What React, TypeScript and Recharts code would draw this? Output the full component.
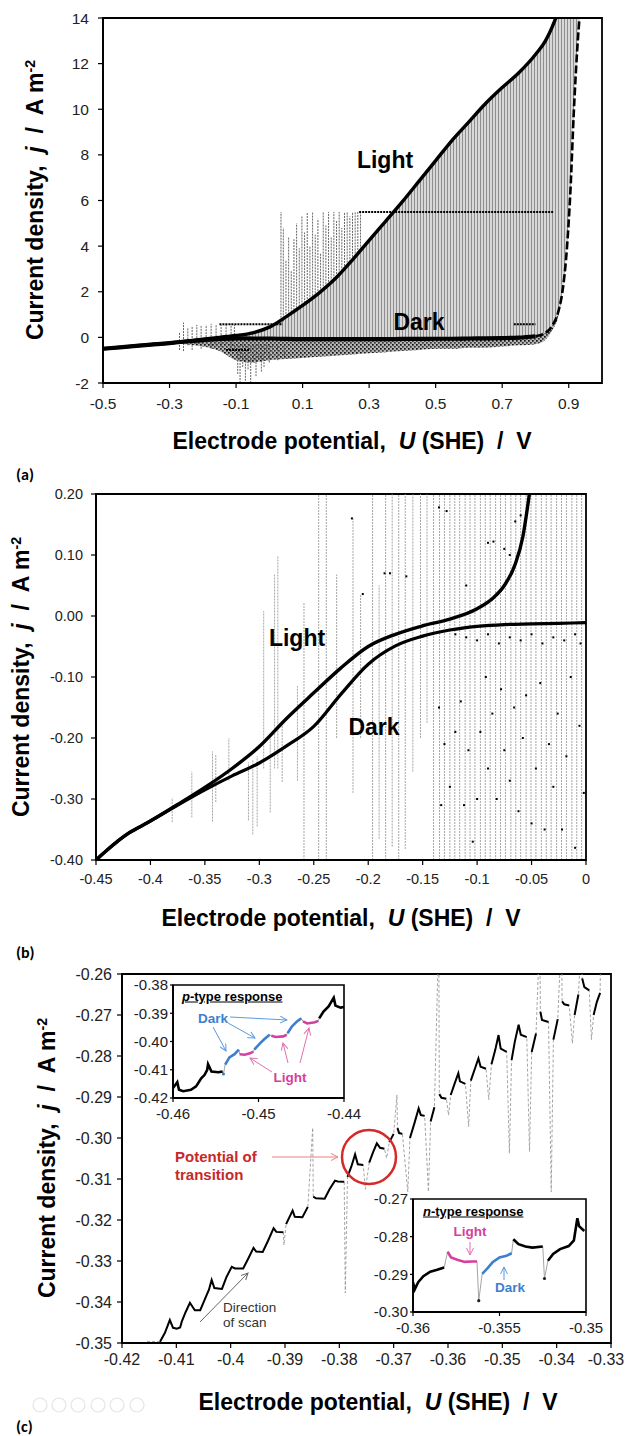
import React from 'react';
import {
  ComposedChart,
  Line,
  Area,
  Scatter,
  XAxis,
  YAxis,
  ReferenceLine,
  ReferenceArea,
} from 'recharts';

const FONT = "'Liberation Sans', Arial, Helvetica, sans-serif";

// ---------------- Panel (a) ----------------
const aPotential = [-0.5, -0.45, -0.4, -0.35, -0.3, -0.25, -0.2, -0.15, -0.1, -0.05, 0, 0.05, 0.1, 0.15, 0.2, 0.25, 0.3, 0.35, 0.4, 0.45, 0.5, 0.55, 0.6, 0.65, 0.7, 0.75, 0.8, 0.83, 0.85, 0.87, 0.88, 0.895, 0.905, 0.915, 0.925, 0.935];
const aLight = [-0.5, -0.44, -0.37, -0.31, -0.25, -0.17, -0.08, 0.0, 0.08, 0.2, 0.45, 0.9, 1.4, 1.95, 2.6, 3.4, 4.25, 5.1, 5.95, 6.85, 7.75, 8.65, 9.45, 10.25, 10.95, 11.6, 12.4, 13.0, 13.6, 14.4, 15.0, 15.8, 16.4, 17.0, 17.5, 18.0];
const aDark = [-0.5, -0.44, -0.37, -0.31, -0.25, -0.18, -0.12, -0.07, -0.04, -0.05, -0.05, -0.07, -0.08, -0.08, -0.08, -0.08, -0.08, -0.08, -0.07, -0.07, -0.06, -0.06, -0.05, -0.04, -0.03, -0.01, 0.05, 0.2, 0.5, 1.2, 1.9, 4.0, 6.4, 9.8, 12.5, 14.5];
const aNoiseLow = [-0.5, -0.44, -0.37, -0.31, -0.27, -0.3, -0.4, -0.6, -1.0, -1.1, -1.0, -0.95, -0.9, -0.85, -0.8, -0.75, -0.7, -0.65, -0.6, -0.55, -0.5, -0.5, -0.45, -0.45, -0.4, -0.35, -0.3, -0.1, 0.3, 1.0, 1.9, 4.0, 6.4, 9.8, 12.5, 14.5];
// [U, j low, j high]
const aSpikes: [number, number, number][] = [
  [0.035, 0.6, 5.5], [0.042, 0.7, 4.8], [0.05, 0.9, 3.4], [0.058, 1.0, 4.4], [0.066, 1.1, 2.9], [0.074, 1.2, 4.3],
  [0.082, 1.3, 5.0], [0.09, 1.35, 3.9], [0.098, 1.4, 5.3], [0.106, 1.5, 4.6], [0.114, 1.55, 5.5], [0.122, 1.65, 4.0],
  [0.13, 1.7, 5.5], [0.138, 1.8, 4.5], [0.146, 1.9, 5.2], [0.154, 2.0, 3.7], [0.162, 2.1, 5.5], [0.17, 2.2, 4.9],
  [0.178, 2.3, 5.5], [0.186, 2.45, 4.4], [0.194, 2.55, 5.5], [0.202, 2.65, 5.1], [0.21, 2.8, 5.5], [0.218, 2.9, 4.8],
  [0.226, 3.0, 5.5], [0.234, 3.15, 5.5], [0.242, 3.3, 5.3], [0.25, 3.4, 5.5], [0.258, 3.55, 5.5], [0.266, 3.7, 5.5], [0.274, 3.85, 5.5],
  [-0.095, -1.6, -0.3], [-0.088, -2.0, -0.3], [-0.08, -1.3, -0.3], [-0.072, -1.9, -0.3], [-0.064, -1.4, -0.3],
  [-0.056, -2.0, -0.3], [-0.048, -1.1, -0.3], [-0.04, -1.7, -0.3], [-0.032, -0.9, -0.3], [-0.024, -1.5, -0.3],
  [-0.016, -1.3, -0.3], [-0.008, -0.8, -0.3], [0.0, -1.1, -0.3], [0.01, -0.7, -0.3], [0.025, -1.0, -0.3], [0.045, -0.8, -0.3],
  [-0.27, -0.55, 0.2], [-0.258, -0.6, 0.65], [-0.245, -0.35, 0.4], [-0.232, -0.55, 0.5], [-0.218, -0.3, 0.55],
  [-0.205, -0.5, 0.5], [-0.19, -0.25, 0.55], [-0.175, -0.5, 0.6], [-0.16, -0.35, 0.55], [-0.145, -0.55, 0.55],
  [-0.13, -0.3, 0.6], [-0.115, -0.5, 0.6], [-0.105, -0.55, 0.55],
];
// [U start, U end, j]
const aCaps: [number, number, number][] = [[0.27, 0.855, 5.5], [0.735, 0.8, 0.58], [-0.15, 0.04, 0.57], [-0.13, -0.06, -0.55]];
const aXTicks = [-0.5, -0.3, -0.1, 0.1, 0.3, 0.5, 0.7, 0.9];
const aYTicks = [-2, 0, 2, 4, 6, 8, 10, 12, 14];

// ---------------- Panel (b) ----------------
const bLightU = [-0.45, -0.44, -0.43, -0.42, -0.41, -0.4, -0.375, -0.35, -0.325, -0.3, -0.275, -0.25, -0.225, -0.2, -0.175, -0.15, -0.125, -0.1, -0.085, -0.075, -0.065, -0.058, -0.052];
const bLightJ = [-0.4, -0.384, -0.369, -0.356, -0.346, -0.336, -0.309, -0.281, -0.25, -0.214, -0.168, -0.126, -0.085, -0.05, -0.03, -0.016, -0.005, 0.012, 0.03, 0.05, 0.085, 0.13, 0.2];
const bDarkU = [-0.45, -0.44, -0.43, -0.42, -0.41, -0.4, -0.375, -0.35, -0.325, -0.3, -0.275, -0.25, -0.225, -0.2, -0.175, -0.15, -0.125, -0.1, -0.075, -0.05, -0.025, 0];
const bDarkJ = [-0.4, -0.384, -0.369, -0.356, -0.346, -0.336, -0.31, -0.285, -0.262, -0.241, -0.213, -0.181, -0.128, -0.079, -0.049, -0.033, -0.023, -0.017, -0.014, -0.013, -0.012, -0.011];
const bSpikes: [number, number, number][] = [
  [-0.38, -0.338, -0.298], [-0.362, -0.33, -0.255], [-0.343, -0.337, -0.222], [-0.34, -0.305, -0.228], [-0.328, -0.27, -0.2],
  [-0.31, -0.335, -0.24], [-0.306, -0.358, -0.235], [-0.302, -0.345, -0.23], [-0.296, -0.25, 0.008], [-0.29, -0.322, -0.2],
  [-0.286, -0.25, 0.068], [-0.283, -0.25, 0.098], [-0.279, -0.272, -0.18], [-0.265, -0.27, -0.115], [-0.259, -0.4, 0.022],
  [-0.2455, -0.4, 0.2], [-0.2385, -0.4, 0.2], [-0.229, -0.2, 0.068], [-0.214, -0.29, 0.16], [-0.207, -0.2, 0.036],
  [-0.196, -0.4, 0.2], [-0.19, -0.365, 0.05], [-0.184, -0.4, 0.2], [-0.178, -0.378, 0.2], [-0.172, -0.4, 0.2],
  [-0.166, -0.382, 0.2], [-0.159, -0.255, 0.2], [-0.152, -0.2, 0.2], [-0.146, -0.175, 0.2],
  [-0.14, -0.4, 0.2], [-0.1345, -0.4, 0.2], [-0.13, -0.4, 0.2], [-0.125, -0.4, 0.2], [-0.1205, -0.4, 0.2], [-0.116, -0.4, 0.2],
  [-0.111, -0.4, 0.2], [-0.1065, -0.4, 0.2], [-0.102, -0.4, 0.2], [-0.097, -0.4, 0.2], [-0.0925, -0.4, 0.2], [-0.088, -0.4, 0.2],
  [-0.083, -0.4, 0.2], [-0.0785, -0.4, 0.2], [-0.074, -0.4, 0.2], [-0.069, -0.4, 0.2], [-0.0645, -0.4, 0.2], [-0.06, -0.4, 0.2],
  [-0.055, -0.4, 0.2], [-0.0505, -0.4, 0.2], [-0.046, -0.4, 0.2], [-0.041, -0.4, 0.2], [-0.0365, -0.4, 0.2], [-0.032, -0.4, 0.2],
  [-0.027, -0.4, 0.2], [-0.0225, -0.4, 0.2], [-0.018, -0.4, 0.2], [-0.013, -0.4, 0.2], [-0.0085, -0.4, 0.2], [-0.004, -0.4, 0.2],
];
const bDots: [number, number][] = [
  [-0.135, -0.15], [-0.133, -0.31], [-0.13, -0.21], [-0.125, -0.28], [-0.12, -0.19], [-0.115, -0.14], [-0.112, -0.31],
  [-0.108, -0.22], [-0.104, -0.37], [-0.1, -0.3], [-0.097, -0.19], [-0.092, -0.1], [-0.09, -0.25], [-0.086, -0.16],
  [-0.082, -0.3], [-0.078, -0.12], [-0.075, -0.22], [-0.07, -0.27], [-0.066, -0.15], [-0.062, -0.32], [-0.058, -0.2],
  [-0.055, -0.13], [-0.05, -0.34], [-0.046, -0.25], [-0.042, -0.11], [-0.038, -0.35], [-0.034, -0.21], [-0.03, -0.28],
  [-0.026, -0.16], [-0.022, -0.35], [-0.018, -0.23], [-0.014, -0.1], [-0.01, -0.38], [-0.006, -0.18], [-0.002, -0.29],
  [-0.215, 0.16], [-0.205, 0.036], [-0.185, 0.07], [-0.18, 0.07], [-0.165, 0.065], [-0.135, 0.178], [-0.128, 0.172],
  [-0.11, 0.05], [-0.095, 0.2], [-0.09, 0.12], [-0.085, 0.122], [-0.075, 0.11], [-0.07, 0.1], [-0.065, 0.155], [-0.06, 0.165],
  [-0.12, -0.03], [-0.11, -0.035], [-0.1, -0.04], [-0.09, -0.03], [-0.08, -0.045], [-0.07, -0.035], [-0.06, -0.04],
  [-0.05, -0.03], [-0.04, -0.045], [-0.03, -0.035], [-0.02, -0.04], [-0.01, -0.03], [-0.005, -0.045],
];
const bXTicks = [-0.45, -0.4, -0.35, -0.3, -0.25, -0.2, -0.15, -0.1, -0.05, 0];
const bYTicks = [-0.4, -0.3, -0.2, -0.1, 0, 0.1, 0.2];

// ---------------- Panel (c) ----------------
// [U, j, 1 = isolated spike point]
const cScan: [number, number, number][] = [
  [-0.4154, -0.3496, 1], [-0.413, -0.3497, 0], [-0.4121, -0.3475, 0], [-0.4112, -0.3444, 0], [-0.4106, -0.3463, 0],
  [-0.4099, -0.3465, 0], [-0.4093, -0.3462, 0], [-0.409, -0.3448, 0], [-0.4083, -0.3425, 0], [-0.4075, -0.3402, 0],
  [-0.4066, -0.342, 0], [-0.4056, -0.342, 0], [-0.4048, -0.3395, 0], [-0.404, -0.337, 0], [-0.4035, -0.3346, 0],
  [-0.403, -0.3366, 0], [-0.4016, -0.3368, 0], [-0.4008, -0.334, 0], [-0.3998, -0.3314, 0], [-0.3992, -0.3318, 0],
  [-0.3977, -0.3318, 0], [-0.3968, -0.3295, 0], [-0.3958, -0.3268, 0], [-0.3953, -0.3277, 0], [-0.3941, -0.3278, 0],
  [-0.3931, -0.325, 0], [-0.3921, -0.322, 0], [-0.3916, -0.3229, 0], [-0.3903, -0.323, 0], [-0.3902, -0.3261, 1],
  [-0.3898, -0.321, 0], [-0.3886, -0.3177, 0], [-0.3882, -0.3192, 0], [-0.3868, -0.3193, 0], [-0.3858, -0.3168, 0],
  [-0.3849, -0.2975, 1], [-0.3848, -0.3143, 0], [-0.3843, -0.3147, 0], [-0.3827, -0.3148, 0], [-0.3818, -0.3125, 0],
  [-0.3808, -0.3104, 0], [-0.3803, -0.3106, 0], [-0.3791, -0.3107, 0], [-0.3789, -0.3378, 1], [-0.3785, -0.3095, 0],
  [-0.3778, -0.307, 0], [-0.3771, -0.304, 0], [-0.3766, -0.3064, 0], [-0.3756, -0.3066, 0], [-0.3752, -0.3125, 1],
  [-0.3745, -0.306, 0], [-0.3738, -0.3035, 0], [-0.3731, -0.3013, 0], [-0.3725, -0.3024, 0], [-0.3717, -0.3026, 0],
  [-0.3713, -0.3049, 1], [-0.3708, -0.301, 0], [-0.37, -0.299, 0], [-0.3694, -0.2895, 1], [-0.3693, -0.2976, 0],
  [-0.369, -0.2988, 0], [-0.3684, -0.299, 0], [-0.3674, -0.3131, 1], [-0.367, -0.3, 0], [-0.3662, -0.2965, 0],
  [-0.3654, -0.2928, 0], [-0.365, -0.2944, 0], [-0.3643, -0.2946, 0], [-0.3636, -0.3131, 1], [-0.3632, -0.296, 0],
  [-0.3625, -0.2925, 0], [-0.3617, -0.25, 1], [-0.3616, -0.2893, 0], [-0.3612, -0.2902, 0], [-0.3603, -0.2904, 0],
  [-0.3599, -0.2944, 1], [-0.3595, -0.2895, 0], [-0.3588, -0.2868, 0], [-0.3581, -0.2842, 0], [-0.3578, -0.2862, 0],
  [-0.3568, -0.2868, 0], [-0.3562, -0.2972, 1], [-0.3558, -0.286, 0], [-0.3551, -0.2833, 0], [-0.3544, -0.2806, 0],
  [-0.354, -0.2826, 0], [-0.353, -0.2831, 0], [-0.3525, -0.2907, 1], [-0.352, -0.282, 0], [-0.3513, -0.2785, 0],
  [-0.3507, -0.2749, 0], [-0.3503, -0.2782, 0], [-0.3492, -0.279, 0], [-0.3487, -0.3037, 1], [-0.3483, -0.281, 0],
  [-0.3477, -0.2765, 0], [-0.347, -0.2724, 0], [-0.3466, -0.2748, 0], [-0.3455, -0.2754, 0], [-0.345, -0.3033, 1],
  [-0.3446, -0.279, 0], [-0.3438, -0.2745, 0], [-0.3431, -0.25, 1], [-0.343, -0.2692, 0], [-0.3427, -0.2712, 0],
  [-0.3415, -0.2717, 0], [-0.341, -0.3131, 1], [-0.3406, -0.276, 0], [-0.3398, -0.271, 0], [-0.3391, -0.25, 1],
  [-0.339, -0.2667, 0], [-0.3386, -0.2674, 0], [-0.3377, -0.2677, 0], [-0.3371, -0.2769, 1], [-0.3367, -0.27, 0],
  [-0.336, -0.265, 0], [-0.3354, -0.25, 1], [-0.3353, -0.2611, 0], [-0.3349, -0.2632, 0], [-0.334, -0.264, 0],
  [-0.3336, -0.276, 1], [-0.3332, -0.27, 0], [-0.3326, -0.2668, 0], [-0.332, -0.2646, 0], [-0.3319, -0.25, 1],
];
const cXTicks = [-0.42, -0.41, -0.4, -0.39, -0.38, -0.37, -0.36, -0.35, -0.34, -0.33];
const cYTicks = [-0.35, -0.34, -0.33, -0.32, -0.31, -0.3, -0.29, -0.28, -0.27, -0.26];

// p-type inset: [U, j, phase] phase 0 = unlabelled, 1 = dark, 2 = light, -1 = isolated point
const pScan: [number, number, number][] = [
  [-0.46, -0.4165, 0], [-0.4595, -0.4144, 0], [-0.4593, -0.4171, 0], [-0.4588, -0.4176, 0], [-0.4579, -0.4171, 0],
  [-0.4573, -0.4159, 0], [-0.4567, -0.413, 0], [-0.4563, -0.4118, 0], [-0.456, -0.41, 0], [-0.4559, -0.408, 0],
  [-0.4555, -0.4106, 0], [-0.4547, -0.4109, 0], [-0.4542, -0.4106, 0],
  [-0.4541, -0.4115, -1], [-0.4539, -0.4082, 1], [-0.4534, -0.4056, 1], [-0.4528, -0.4045, 1], [-0.4523, -0.4029, 1],
  [-0.4522, -0.4045, 2], [-0.4516, -0.4047, 2], [-0.451, -0.4042, 2], [-0.4506, -0.4036, 2],
  [-0.4505, -0.4029, 1], [-0.4498, -0.4006, 1], [-0.4493, -0.3991, 1], [-0.4487, -0.3976, 1],
  [-0.4485, -0.398, 2], [-0.448, -0.3984, 2], [-0.4471, -0.3982, 2], [-0.4467, -0.3976, 2],
  [-0.4466, -0.3971, 1], [-0.4461, -0.3947, 1], [-0.4455, -0.3929, 1], [-0.445, -0.3918, 1],
  [-0.4448, -0.3929, 2], [-0.4443, -0.3936, 2], [-0.4434, -0.3932, 2], [-0.443, -0.3927, 2],
  [-0.4429, -0.3918, 0], [-0.4424, -0.3894, 0], [-0.4418, -0.3876, 0], [-0.4412, -0.3845, 0], [-0.441, -0.3873, 0],
  [-0.4404, -0.388, 0], [-0.44, -0.3878, 0],
];
const pXTicks = [-0.46, -0.45, -0.44];
const pYTicks = [-0.42, -0.41, -0.4, -0.39, -0.38];

// n-type inset
const nScan: [number, number, number][] = [
  [-0.36, -0.2921, 0], [-0.3599, -0.294, 0], [-0.3597, -0.2921, 0], [-0.3594, -0.2905, 0], [-0.359, -0.2893, 0],
  [-0.3586, -0.2888, 0], [-0.3582, -0.2882, 0],
  [-0.358, -0.284, 2], [-0.3578, -0.2855, 2], [-0.3574, -0.2862, 2], [-0.357, -0.2867, 2], [-0.3566, -0.2866, 2], [-0.3563, -0.2866, 2],
  [-0.3562, -0.297, -1], [-0.356, -0.2899, 1], [-0.3557, -0.2884, 1], [-0.3554, -0.2868, 1], [-0.355, -0.2855, 1],
  [-0.3546, -0.2851, 1], [-0.3543, -0.2844, 1],
  [-0.3542, -0.2807, 0], [-0.3539, -0.282, 0], [-0.3535, -0.2826, 0], [-0.3531, -0.2829, 0], [-0.3525, -0.2826, 0],
  [-0.3524, -0.2911, -1], [-0.3522, -0.2864, 0], [-0.3519, -0.2846, 0], [-0.3515, -0.2833, 0], [-0.351, -0.2825, 0],
  [-0.3507, -0.281, 0], [-0.3505, -0.2751, 0], [-0.3504, -0.2772, 0], [-0.3501, -0.2785, 0],
];
const nXTicks = [-0.36, -0.355, -0.35];
const nYTicks = [-0.3, -0.29, -0.28, -0.27];

// ---------------- tables ----------------
const aTable = aPotential.map((x, i) => ({
  x,
  light: aLight[i],
  dark: x <= 0.8 ? aDark[i] : null,
  darkRise: x >= 0.8 ? aDark[i] : null,
  band: [aDark[i], aLight[i]],
  noise: [aNoiseLow[i], aDark[i]],
}));
const bLightRows = bLightU.map((x, i) => ({ x, j: bLightJ[i] }));
const bDarkRows = bDarkU.map((x, i) => ({ x, j: bDarkJ[i] }));
const bDotRows = bDots.map(([x, j]) => ({ x, j }));
const cAllRows = cScan.map(([x, j]) => ({ x, j }));
const cMainRows = cScan.map(([x, j, s]) => ({ x, j: s ? null : j }));
const phaseRows = (scan: [number, number, number][]) =>
  scan.map(([x, j, p]) => ({
    x,
    all: j,
    k: p === 0 ? j : null,
    b: p === 1 ? j : null,
    m: p === 2 ? j : null,
    iso: p === -1 ? j : null,
  }));
const pRows = phaseRows(pScan);
const nRows = phaseRows(nScan);

const trimNum = (v: number) => String(Number(v.toFixed(3)));

const BLUE = '#3c7fd0';
const MAGENTA = '#d4409f';

function axisProps(fontSize: number, tickMargin: number) {
  return {
    tick: { fontSize, fill: '#222', fontFamily: FONT },
    tickLine: { stroke: '#000', strokeWidth: 1.2 },
    axisLine: { stroke: '#000', strokeWidth: 1.8 },
    tickSize: 5,
    tickMargin,
    interval: 0 as const,
    allowDataOverflow: true,
  };
}

// x tick that is kept inside the page at the right edge
const makeClampTick = (fontSize: number, maxX: number) => (props: any) => {
  const { x, y, payload } = props;
  const label = trimNum(payload.value);
  const w = label.length * fontSize * 0.5;
  const cx = Math.min(x, maxX - w / 2);
  return (
    <text x={cx} y={y} dy="0.71em" textAnchor="middle" fontSize={fontSize} fill="#222" fontFamily={FONT}>
      {label}
    </text>
  );
};

const Txt = ({ x, y, size, children, color = '#000', bold = true, center = true, rotate = false, family = FONT, style = {} }: any) => (
  <div
    style={{
      position: 'absolute',
      left: x,
      top: y,
      transform: `translate(${center ? '-50%' : '0'}, -50%)${rotate ? ' rotate(-90deg)' : ''}`,
      fontFamily: family,
      fontSize: size,
      fontWeight: bold ? 700 : 400,
      color,
      whiteSpace: 'pre',
      lineHeight: 1,
      ...style,
    }}
  >
    {children}
  </div>
);

const XTitle = () => (
  <>
    Electrode potential,{'  '}<i>U</i> (SHE){'  '}/{'  '}V
  </>
);
const YTitle = () => (
  <>
    Current density,{'  '}<i>j</i>{'  '}/{'  '}A m<span style={{ fontSize: '0.62em', verticalAlign: '0.62em' }}>-2</span>
  </>
);

const spikeLine = (s: [number, number, number], i: number, stroke = '#8f8f8f', width = 0.8) => (
  <ReferenceLine
    key={'s' + i}
    segment={[{ x: s[0], y: s[1] }, { x: s[0], y: s[2] }]}
    stroke={stroke}
    strokeWidth={width}
    strokeDasharray="2 1"
    ifOverflow="hidden"
  />
);

const dotShape = (p: any) => <rect x={p.cx - 1} y={p.cy - 1} width={2} height={2} fill="#000" />;

function Inset({ rows, xDomain, yDomain, xTicks, yTicks, width, right, isoColor }: any) {
  const isoShape = (p: any) => <circle cx={p.cx} cy={p.cy} r={1.6} fill={isoColor} />;
  return (
    <ComposedChart width={width} height={150} data={rows} margin={{ top: 9, right, bottom: 0, left: 0 }}>
      <XAxis type="number" dataKey="x" domain={xDomain} ticks={xTicks} tickFormatter={trimNum} height={28} {...axisProps(15, 6)} tickSize={4} />
      <YAxis type="number" domain={yDomain} ticks={yTicks} tickFormatter={(v: number) => v.toFixed(2)} width={48} {...axisProps(15, 2)} tickSize={3} />
      <ReferenceArea x1={xDomain[0]} x2={xDomain[1]} y1={yDomain[0]} y2={yDomain[1]} fill="none" stroke="#000" strokeWidth={1.6} ifOverflow="visible" />
      <Line dataKey="all" stroke="#9a9a9a" strokeWidth={0.9} dot={false} activeDot={false} isAnimationActive={false} />
      <Line dataKey="k" stroke="#000" strokeWidth={2.6} dot={false} activeDot={false} isAnimationActive={false} />
      <Line dataKey="b" stroke={BLUE} strokeWidth={2.6} dot={false} activeDot={false} isAnimationActive={false} />
      <Line dataKey="m" stroke={MAGENTA} strokeWidth={2.6} dot={false} activeDot={false} isAnimationActive={false} />
      <Scatter dataKey="iso" shape={isoShape} isAnimationActive={false} />
    </ComposedChart>
  );
}

export default function App() {
  return (
    <div style={{ position: 'absolute', left: 0, top: 0, width: 627, height: 1436, background: '#fff', overflow: 'hidden' }}>
      {/* Panel (a) */}
      <div style={{ position: 'absolute', left: 0, top: 0 }}>
        <ComposedChart width={627} height={420} data={aTable} margin={{ top: 18, right: 25, bottom: 0, left: 0 }}>
          <defs>
            <pattern id="hatchA" width="3" height="6" patternUnits="userSpaceOnUse">
              <rect width="3" height="6" fill="#d8d8d8" />
              <rect width="1" height="6" fill="#8e8e8e" />
            </pattern>
            <pattern id="speckA" width="4" height="4" patternUnits="userSpaceOnUse">
              <rect width="4" height="4" fill="#b4b4b4" />
              <rect x="0" y="0" width="1.7" height="1.7" fill="#111" />
              <rect x="2" y="2" width="1.7" height="1.7" fill="#333" />
            </pattern>
          </defs>
          <XAxis type="number" dataKey="x" domain={[-0.5, 1]} ticks={aXTicks} tickFormatter={(v: number) => v.toFixed(1)} height={37} {...axisProps(15.5, 10)} />
          <YAxis type="number" domain={[-2, 14]} ticks={aYTicks} width={103} {...axisProps(15.5, 9)} />
          <Area dataKey="band" type="monotone" fill="url(#hatchA)" fillOpacity={1} stroke="none" dot={false} activeDot={false} isAnimationActive={false} />
          <Area dataKey="noise" type="monotone" fill="url(#speckA)" fillOpacity={1} stroke="none" dot={false} activeDot={false} isAnimationActive={false} />
          {aSpikes.map((s, i) => spikeLine(s, i, '#555', 0.9))}
          {aCaps.map((c, i) => (
            <ReferenceLine key={'c' + i} segment={[{ x: c[0], y: c[2] }, { x: c[1], y: c[2] }]} stroke="#000" strokeWidth={2} strokeDasharray="2 1" ifOverflow="hidden" />
          ))}
          <Line dataKey="light" type="monotone" stroke="#000" strokeWidth={3.4} dot={false} activeDot={false} isAnimationActive={false} />
          <Line dataKey="dark" type="monotone" stroke="#000" strokeWidth={4.2} dot={false} activeDot={false} isAnimationActive={false} />
          <Line dataKey="darkRise" type="monotone" stroke="#000" strokeWidth={2.6} strokeDasharray="8 3" dot={false} activeDot={false} isAnimationActive={false} />
          <ReferenceArea x1={-0.5} x2={1} y1={-2} y2={14} fill="none" stroke="#000" strokeWidth={1.8} ifOverflow="visible" />
        </ComposedChart>
      </div>

      {/* Panel (b) */}
      <div style={{ position: 'absolute', left: 0, top: 480 }}>
        <ComposedChart width={627} height={417} margin={{ top: 14, right: 41, bottom: 0, left: 0 }}>
          <XAxis type="number" dataKey="x" domain={[-0.45, 0]} ticks={bXTicks} tickFormatter={trimNum} height={37} {...axisProps(14.5, 9)} />
          <YAxis type="number" dataKey="j" domain={[-0.4, 0.2]} ticks={bYTicks} tickFormatter={(v: number) => v.toFixed(2)} width={96} {...axisProps(14.5, 8)} />
          {bSpikes.map((s, i) => spikeLine(s, i))}
          <Scatter data={bDotRows} dataKey="j" shape={dotShape} isAnimationActive={false} />
          <Line data={bLightRows} dataKey="j" type="monotone" stroke="#000" strokeWidth={3.4} dot={false} activeDot={false} isAnimationActive={false} />
          <Line data={bDarkRows} dataKey="j" type="monotone" stroke="#000" strokeWidth={3.2} dot={false} activeDot={false} isAnimationActive={false} />
          <ReferenceArea x1={-0.45} x2={0} y1={-0.4} y2={0.2} fill="none" stroke="#000" strokeWidth={1.8} ifOverflow="visible" />
        </ComposedChart>
      </div>

      {/* Panel (c) */}
      <div style={{ position: 'absolute', left: 0, top: 960 }}>
        <ComposedChart width={627} height={420} margin={{ top: 14, right: 16, bottom: 0, left: 0 }}>
          <XAxis type="number" dataKey="x" domain={[-0.42, -0.33]} ticks={cXTicks} height={37} {...axisProps(16, 6)} tick={makeClampTick(16, 626)} />
          <YAxis type="number" dataKey="j" domain={[-0.35, -0.26]} ticks={cYTicks} tickFormatter={(v: number) => v.toFixed(2)} width={122} {...axisProps(16, 5)} />
          <Line data={cAllRows} dataKey="j" stroke="#9a9a9a" strokeWidth={0.9} strokeDasharray="3 2" dot={false} activeDot={false} isAnimationActive={false} />
          <Line data={cMainRows} dataKey="j" stroke="#000" strokeWidth={2} dot={false} activeDot={false} isAnimationActive={false} />
          <ReferenceArea x1={-0.42} x2={-0.33} y1={-0.35} y2={-0.26} fill="none" stroke="#000" strokeWidth={1.8} ifOverflow="visible" />
        </ComposedChart>
      </div>

      {/* p-type inset */}
      <div style={{ position: 'absolute', left: 125, top: 976 }}>
        <Inset rows={pRows} xDomain={[-0.46, -0.44]} yDomain={[-0.42, -0.38]} xTicks={pXTicks} yTicks={pYTicks} width={250} right={31} isoColor={BLUE} />
      </div>
      {/* n-type inset */}
      <div style={{ position: 'absolute', left: 365, top: 1190 }}>
        <Inset rows={nRows} xDomain={[-0.36, -0.35]} yDomain={[-0.3, -0.27]} xTicks={nXTicks} yTicks={nYTicks} width={250} right={29} isoColor="#222" />
      </div>

      {/* annotation graphics */}
      <svg width={627} height={1436} style={{ position: 'absolute', left: 0, top: 0, pointerEvents: 'none' }}>
        <defs>
          {[
            ['arRed', '#ee8080'],
            ['arGray', '#666'],
            ['arBlue', '#5a9ae0'],
            ['arMag', '#e070b0'],
          ].map(([id, c]) => (
            <marker key={id} id={id} markerWidth="8" markerHeight="8" refX="7" refY="4" orient="auto" markerUnits="userSpaceOnUse">
              <path d="M0,0.5 L7,4 L0,7.5" fill="none" stroke={c} strokeWidth="1" />
            </marker>
          ))}
        </defs>
        <line x1={272} y1={1157} x2={338} y2={1157} stroke="#ee8080" strokeWidth={1} markerEnd="url(#arRed)" />
        <circle cx={369} cy={1157} r={27} fill="none" stroke="#d42a2a" strokeWidth={2.5} />
        <line x1={200} y1={1322} x2={248} y2={1273} stroke="#666" strokeWidth={1} markerEnd="url(#arGray)" />
        <line x1={230} y1={1017} x2={287} y2={1020} stroke="#5a9ae0" strokeWidth={1} markerEnd="url(#arBlue)" />
        <line x1={228} y1={1023} x2={255} y2={1038} stroke="#5a9ae0" strokeWidth={1} markerEnd="url(#arBlue)" />
        <line x1={213} y1={1027} x2={226} y2={1051} stroke="#5a9ae0" strokeWidth={1} markerEnd="url(#arBlue)" />
        <line x1={272} y1={1072} x2={250} y2={1058} stroke="#e070b0" strokeWidth={1} markerEnd="url(#arMag)" />
        <line x1={288} y1={1063} x2={283} y2={1043} stroke="#e070b0" strokeWidth={1} markerEnd="url(#arMag)" />
        <line x1={300} y1={1063} x2={309} y2={1028} stroke="#e070b0" strokeWidth={1} markerEnd="url(#arMag)" />
        <line x1={470} y1={1242} x2={470} y2={1255} stroke="#e070b0" strokeWidth={1} markerEnd="url(#arMag)" />
        <line x1={504} y1={1280} x2={504} y2={1267} stroke="#5a9ae0" strokeWidth={1} markerEnd="url(#arBlue)" />
        {[40, 59, 78, 98, 117, 137].map((cx) => (
          <circle key={cx} cx={cx} cy={1405} r={7} fill="none" stroke="#e4e4e4" strokeWidth={1.2} />
        ))}
      </svg>

      {/* texts */}
      <Txt x={35} y={200} size={23} rotate><YTitle /></Txt>
      <Txt x={352} y={441} size={23}><XTitle /></Txt>
      <Txt x={385} y={160} size={23}>Light</Txt>
      <Txt x={419} y={322} size={23}>Dark</Txt>
      <Txt x={16} y={475} size={16} center={false} family="Carlito, Calibri, 'Open Sans', sans-serif">(a)</Txt>

      <Txt x={21} y={677} size={23} rotate><YTitle /></Txt>
      <Txt x={341} y={918} size={23}><XTitle /></Txt>
      <Txt x={297} y={638} size={23}>Light</Txt>
      <Txt x={374} y={727} size={23}>Dark</Txt>
      <Txt x={16} y={953} size={16} center={false} family="Carlito, Calibri, 'Open Sans', sans-serif">(b)</Txt>

      <Txt x={47} y={1158} size={23} rotate><YTitle /></Txt>
      <Txt x={378} y={1402} size={23}><XTitle /></Txt>
      <Txt x={16} y={1427} size={16} center={false} family="Carlito, Calibri, 'Open Sans', sans-serif">(c)</Txt>

      <Txt x={175} y={1156} size={15} color="#c62828" center={false}>Potential of</Txt>
      <Txt x={175} y={1174} size={15} color="#c62828" center={false}>transition</Txt>
      <Txt x={223} y={1308} size={13.5} color="#333" bold={false} center={false}>Direction</Txt>
      <Txt x={223} y={1323} size={13.5} color="#333" bold={false} center={false}>of scan</Txt>

      <Txt x={182} y={996} size={13} center={false} style={{ textDecoration: 'underline' }}><i>p</i>-type response</Txt>
      <Txt x={213} y={1019} size={13.5} color={BLUE}>Dark</Txt>
      <Txt x={290} y={1078} size={13.5} color={MAGENTA}>Light</Txt>

      <Txt x={423} y={1211} size={13} center={false} style={{ textDecoration: 'underline' }}><i>n</i>-type response</Txt>
      <Txt x={470} y={1232} size={13.5} color={MAGENTA}>Light</Txt>
      <Txt x={510} y={1288} size={13.5} color={BLUE}>Dark</Txt>
    </div>
  );
}
